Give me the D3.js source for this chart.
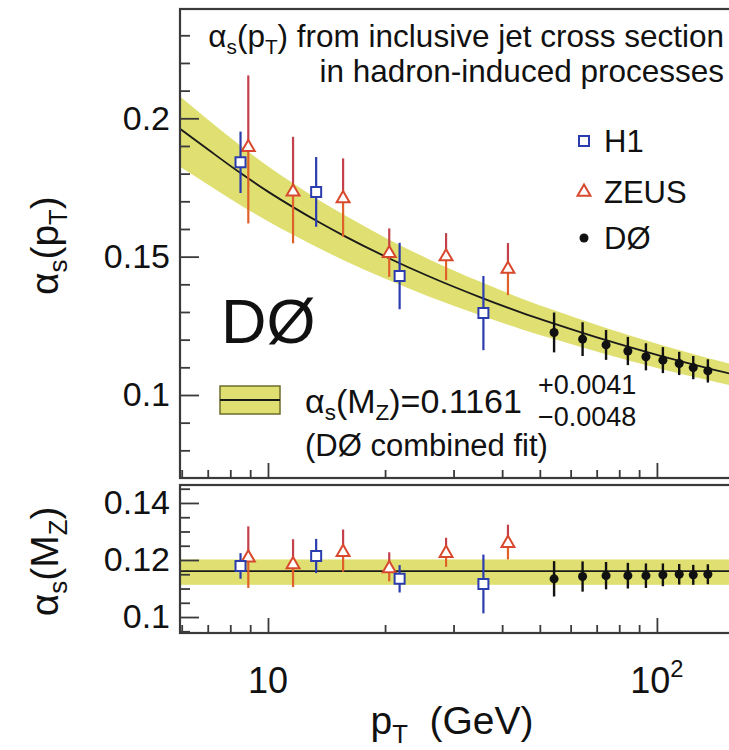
<!DOCTYPE html>
<html>
<head>
<meta charset="utf-8">
<script src="https://cdn.jsdelivr.net/npm/d3@7"></script>
<style>
  body { margin: 0; background: #fff; }
  svg { display: block; font-family: "Liberation Sans", Arial, Helvetica, sans-serif; }
</style>
</head>
<body>
<svg id="plot"></svg>
<script>
//H1 points
const h1Pt = [8.5, 13.3, 21.8, 35.8];
const h1Alpha = [0.1841, 0.1734, 0.1430, 0.1296];
const h1AlphaErr = [0.0111, 0.0126, 0.0120, 0.0134];
const h1Mz = [0.1179, 0.1214, 0.1134, 0.1116];
const h1MzErr = [0.0045, 0.0060, 0.0048, 0.0103];

//ZEUS points
const zeusPt = [8.9, 11.6, 15.6, 20.5, 28.7, 41.4];
const zeusAlpha = [0.1895, 0.1734, 0.1710, 0.1512, 0.1500, 0.1455];
const zeusAlphaUp = [0.0260, 0.0199, 0.0145, 0.0090, 0.0085, 0.0094];
const zeusAlphaDn = [0.0275, 0.0186, 0.0138, 0.0085, 0.0085, 0.0094];
const zeusMz = [0.1208, 0.1184, 0.1227, 0.1170, 0.1224, 0.1259];
const zeusMzUp = [0.0110, 0.0089, 0.0080, 0.0057, 0.0054, 0.0065];
const zeusMzDn = [0.0106, 0.0079, 0.0068, 0.0045, 0.0048, 0.0057];

//D0 points
const d0Pt = [54.4, 64.4, 74.0, 84.2, 93.7, 103.6, 114.1, 124.0, 135.2];
const d0Alpha = [0.1226, 0.1202, 0.1181, 0.1159, 0.1138, 0.1126, 0.1114, 0.1099, 0.1087];
const d0AlphaErr = [0.0072, 0.0061, 0.0054, 0.0051, 0.0049, 0.0047, 0.0042, 0.0042, 0.0042];
const d0Mz = [0.1134, 0.1142, 0.1145, 0.1145, 0.1145, 0.1148, 0.1150, 0.1148, 0.1150];
const d0MzErr = [0.0062, 0.0053, 0.0048, 0.0045, 0.0043, 0.0040, 0.0036, 0.0035, 0.0035];

//Combined fit curve and band
const fitPt = [5.94, 7, 8.5, 10, 11.6, 13.5, 15.6, 20.2, 25.9, 35.3, 45, 54.4, 74, 100, 135, 200];
const fitAlpha = [0.1962, 0.1888, 0.1802, 0.1735, 0.1679, 0.1625, 0.1577, 0.1498, 0.1429, 0.1352, 0.1297, 0.1258, 0.1198, 0.1145, 0.1097, 0.1040];
const fitUpper = [0.2079, 0.1996, 0.1901, 0.1827, 0.1765, 0.1705, 0.1653, 0.1566, 0.1491, 0.1408, 0.1348, 0.1306, 0.1242, 0.1185, 0.1134, 0.1073];
const fitLower = [0.1825, 0.1761, 0.1686, 0.1628, 0.1579, 0.1531, 0.1488, 0.1418, 0.1356, 0.1287, 0.1237, 0.1202, 0.1147, 0.1098, 0.1054, 0.1001];
const mzFit = 0.1161, mzFitUp = 0.1202, mzFitDn = 0.1113;

//Ticks
const xMajor = [10, 100];
const xMinor = [6, 7, 8, 9, 20, 30, 40, 50, 60, 70, 80, 90, 200];
const yTopMajor = [0.1, 0.15, 0.2];
const yTopLabels = ['0.1', '0.15', '0.2'];
const yTopMinor = [0.08, 0.09, 0.11, 0.12, 0.13, 0.14, 0.16, 0.17, 0.18, 0.19, 0.21, 0.22, 0.23];
const yBotMajor = [0.1, 0.12, 0.14];
const yBotLabels = ['0.1', '0.12', '0.14'];
const yBotMinor = [0.095, 0.105, 0.11, 0.115, 0.125, 0.13, 0.135, 0.145];

const blue = '#2b3cae', band = '#dfdf72', frameCol = '#3a3a3a';

//Set the width and height of the svg
const width = 729;
const height = 750;
const svg = d3.select('#plot').attr('width', width).attr('height', height);
svg.append('rect').attr('width', width).attr('height', height).attr('fill', '#fff');

//Scales
const x = d3.scaleLog().domain([5.94, 200]).range([180, 774]);
const yTop = d3.scaleLinear().domain([0.07, 0.2395]).range([478, 9]);
const yBot = d3.scaleLinear().domain([0.0944, 0.1463]).range([633, 485]);

//text with sub / superscripts
function richText(parent, px, py, parts, size, anchor) {
    const t = parent.append('text')
        .attr('x', px).attr('y', py)
        .attr('font-size', size)
        .attr('text-anchor', anchor || 'start')
        .attr('fill', '#111');
    parts.forEach(p => {
        const s = t.append('tspan').text(p[0]);
        if (p[1] === 'sub') s.attr('font-size', size * 0.66).attr('baseline-shift', (-size * 0.22) + 'px');
        if (p[1] === 'sup') s.attr('font-size', size * 0.66).attr('baseline-shift', (size * 0.45) + 'px');
    });
    return t;
}

//Clip paths
const defs = svg.append('defs');
defs.append('clipPath').attr('id', 'clipTop').append('rect')
    .attr('x', x.range()[0]).attr('y', yTop.range()[1])
    .attr('width', x.range()[1] - x.range()[0]).attr('height', yTop.range()[0] - yTop.range()[1]);
defs.append('clipPath').attr('id', 'clipBot').append('rect')
    .attr('x', x.range()[0]).attr('y', yBot.range()[1])
    .attr('width', x.range()[1] - x.range()[0]).attr('height', yBot.range()[0] - yBot.range()[1]);

const gTop = svg.append('g').attr('clip-path', 'url(#clipTop)');
const gBot = svg.append('g').attr('clip-path', 'url(#clipBot)');

//Fit band and curve (top)
const idx = d3.range(fitPt.length);
gTop.append('path')
    .attr('d', d3.area()
        .x(i => x(fitPt[i]))
        .y0(i => yTop(fitLower[i]))
        .y1(i => yTop(fitUpper[i]))
        .curve(d3.curveMonotoneX)(idx))
    .attr('fill', band);
gTop.append('path')
    .attr('d', d3.line()
        .x(i => x(fitPt[i]))
        .y(i => yTop(fitAlpha[i]))
        .curve(d3.curveMonotoneX)(idx))
    .attr('fill', 'none').attr('stroke', '#1a1a1a').attr('stroke-width', 1.8);

//Fit band and line (bottom)
gBot.append('rect')
    .attr('x', x.range()[0]).attr('width', x.range()[1] - x.range()[0])
    .attr('y', yBot(mzFitUp)).attr('height', yBot(mzFitDn) - yBot(mzFitUp))
    .attr('fill', band);
gBot.append('line')
    .attr('x1', x.range()[0]).attr('x2', x.range()[1])
    .attr('y1', yBot(mzFit)).attr('y2', yBot(mzFit))
    .attr('stroke', '#1a1a1a').attr('stroke-width', 1.8);

//Error bars (upper and lower half may differ in colour) and markers
function drawSeries(g, y, pts, vals, up, dn, opt) {
    g.selectAll(null)
        .data(pts)
        .enter()
        .append('line')
        .attr('x1', d => x(d)).attr('x2', d => x(d))
        .attr('y1', (d, i) => y(vals[i] + up[i]))
        .attr('y2', (d, i) => y(vals[i]))
        .attr('stroke', opt.barUp)
        .attr('stroke-width', opt.bar);
    g.selectAll(null)
        .data(pts)
        .enter()
        .append('line')
        .attr('x1', d => x(d)).attr('x2', d => x(d))
        .attr('y1', (d, i) => y(vals[i]))
        .attr('y2', (d, i) => y(vals[i] - dn[i]))
        .attr('stroke', opt.barDn)
        .attr('stroke-width', opt.bar);
    g.selectAll(null)
        .data(pts)
        .enter()
        .append('path')
        .attr('transform', (d, i) => `translate(${x(d)},${y(vals[i])})`)
        .attr('d', d3.symbol().type(opt.symbol).size(opt.size))
        .attr('fill', opt.fill)
        .attr('stroke', opt.color)
        .attr('stroke-width', opt.stroke);
}

const h1Style = { color: blue, barUp: blue, barDn: blue, bar: 2.2, symbol: d3.symbolSquare, size: 100, fill: '#fff', stroke: 2 };
const zeusStyle = { color: '#d8482c', barUp: '#c4404c', barDn: '#df6129', bar: 2.2, symbol: d3.symbolTriangle, size: 72, fill: '#fff', stroke: 2 };
const d0Style = { color: '#111', barUp: '#111', barDn: '#111', bar: 2.4, symbol: d3.symbolCircle, size: 64, fill: '#111', stroke: 0 };

drawSeries(gTop, yTop, zeusPt, zeusAlpha, zeusAlphaUp, zeusAlphaDn, zeusStyle);
drawSeries(gTop, yTop, h1Pt, h1Alpha, h1AlphaErr, h1AlphaErr, h1Style);
drawSeries(gTop, yTop, d0Pt, d0Alpha, d0AlphaErr, d0AlphaErr, d0Style);

drawSeries(gBot, yBot, zeusPt, zeusMz, zeusMzUp, zeusMzDn, zeusStyle);
drawSeries(gBot, yBot, h1Pt, h1Mz, h1MzErr, h1MzErr, h1Style);
drawSeries(gBot, yBot, d0Pt, d0Mz, d0MzErr, d0MzErr, d0Style);

//Axes (ticks point inward)
function yAxis(scale, major, labels, minor) {
    const gMaj = svg.append('g')
        .attr('transform', `translate(${x.range()[0]},0)`)
        .call(d3.axisLeft(scale).tickValues(major).tickSize(-19).tickPadding(10)
            .tickFormat((d, i) => labels[i]));
    const gMin = svg.append('g')
        .attr('transform', `translate(${x.range()[0]},0)`)
        .call(d3.axisLeft(scale).tickValues(minor).tickSize(-10).tickFormat(''));
    [gMaj, gMin].forEach(g => {
        g.select('.domain').remove();
        g.selectAll('line').attr('stroke', frameCol).attr('stroke-width', 1.8);
    });
    gMaj.selectAll('text')
        .attr('font-family', '"Liberation Sans", Arial, sans-serif')
        .attr('font-size', 34).attr('fill', '#111');
}
yAxis(yTop, yTopMajor, yTopLabels, yTopMinor);
yAxis(yBot, yBotMajor, yBotLabels, yBotMinor);

function xAxis(yPos) {
    const gMaj = svg.append('g').attr('transform', `translate(0,${yPos})`)
        .call(d3.axisBottom(x).tickValues(xMajor).tickSize(-15).tickFormat(''));
    const gMin = svg.append('g').attr('transform', `translate(0,${yPos})`)
        .call(d3.axisBottom(x).tickValues(xMinor).tickSize(-8).tickFormat(''));
    [gMaj, gMin].forEach(g => {
        g.select('.domain').remove();
        g.selectAll('line').attr('stroke', frameCol).attr('stroke-width', 1.8);
    });
}
xAxis(yTop.range()[0]);
xAxis(yBot.range()[0]);

//Frames
[yTop, yBot].forEach(s => {
    svg.append('rect')
        .attr('x', x.range()[0]).attr('y', s.range()[1])
        .attr('width', x.range()[1] - x.range()[0]).attr('height', s.range()[0] - s.range()[1])
        .attr('fill', 'none').attr('stroke', frameCol).attr('stroke-width', 2.2);
});

//x tick labels
richText(svg, x(10), 693, [['10']], 36, 'middle');
richText(svg, x(100), 693, [['10'], ['2', 'sup']], 36, 'middle');

//Axis titles
richText(svg, 452, 734, [['p'], ['T', 'sub'], ['\u00a0 (GeV)']], 39, 'middle');
richText(svg, 0, 0, [['α'], ['s', 'sub'], ['(p'], ['T', 'sub'], [')']], 39, 'middle')
    .attr('transform', `translate(58,${yTop(0.154)}) rotate(-90)`);
richText(svg, 0, 0, [['α'], ['s', 'sub'], ['(M'], ['Z', 'sub'], [')']], 39, 'middle')
    .attr('transform', `translate(58,${yBot(0.1195)}) rotate(-90)`);

//Title
richText(svg, 724, 47, [['α'], ['s', 'sub'], ['(p'], ['T', 'sub'], [') from inclusive jet cross section']], 31.5, 'end');
richText(svg, 724, 82, [['in hadron-induced processes']], 31.5, 'end');

//Legend
const legendNames = ['H1', 'ZEUS', 'DØ'];
const legendStyles = [h1Style, zeusStyle, d0Style];
const legendY = [141, 192, 238];
legendNames.forEach((name, i) => {
    const st = legendStyles[i];
    svg.append('path')
        .attr('transform', `translate(584,${legendY[i]})`)
        .attr('d', d3.symbol().type(st.symbol).size(st.size))
        .attr('fill', st.fill).attr('stroke', st.color).attr('stroke-width', st.stroke);
    richText(svg, 604, legendY[i] + 11, [[name]], 31, 'start');
});

//Big experiment label
richText(svg, 221, 343, [['DØ']], 63, 'start');

//Fit legend
svg.append('rect').attr('x', 220).attr('y', 386).attr('width', 60).attr('height', 28)
    .attr('fill', band).attr('stroke', '#6e6e2c').attr('stroke-width', 1.5);
svg.append('line').attr('x1', 220).attr('x2', 280).attr('y1', 400).attr('y2', 400)
    .attr('stroke', '#1a1a1a').attr('stroke-width', 1.8);
richText(svg, 305, 413, [['α'], ['s', 'sub'], ['(M'], ['Z', 'sub'], [')=0.1161']], 34, 'start');
richText(svg, 538, 394, [['+0.0041']], 27, 'start');
richText(svg, 538, 426, [['\u22120.0048']], 27, 'start');
richText(svg, 305, 456, [['(DØ combined fit)']], 31, 'start');
</script>
</body>
</html>
